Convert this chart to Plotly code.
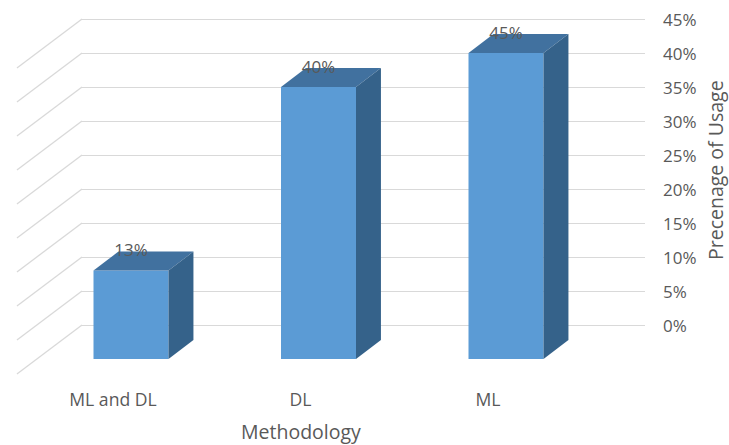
import plotly.graph_objects as go

# Survey values
methods = ["ML and DL", "DL", "ML"]
usage = [13, 40, 45]
tick_values = [0, 5, 10, 15, 20, 25, 30, 35, 40, 45]
tick_labels = ["0%", "5%", "10%", "15%", "20%", "25%", "30%", "35%", "40%", "45%"]

WIDTH, HEIGHT = 729, 445
FONT = "Open Sans"
TEXT = "#595959"
GRID = "#D9D9D9"
FRONT = "#5B9BD5"
TOP = "#41719F"
SIDE = "#35628A"

# Back wall rectangle in canvas pixels
WALL_LEFT, WALL_RIGHT, WALL_TOP, WALL_BOTTOM = 82, 645, 19, 325
# One category step and one percent in canvas pixels
STEP = 187.5
PER_PERCENT = (WALL_BOTTOM - WALL_TOP) / 45
FIRST_CENTER = 131
# Extra room so the 0% and 45% gridlines are not dropped at the range ends
EDGE = 2

# Pseudo-3D projection, expressed in data units of the full-canvas axes
positions = list(range(len(methods)))
half_width = 0.2
floor_drop = 5.0      # the bars stand this far below the back wall's zero line
depth_x, depth_y = 0.133, 2.8
wall_x, wall_y = 0.347, 7.2
label_lift = 2.7
wall_start = (WALL_LEFT - FIRST_CENTER) / STEP

fig = go.Figure()

# Carries the value axis and its grid on the back wall
fig.add_trace(go.Scatter(x=positions, y=usage, mode="none", xaxis="x", yaxis="y",
                         hoverinfo="skip"))

# Side wall and floor lines running forward from each gridline
wall_xs, wall_ys = [], []
for v in tick_values:
    wall_xs += [wall_start, wall_start - wall_x, None]
    wall_ys += [v, v - wall_y, None]
fig.add_trace(go.Scatter(x=wall_xs, y=wall_ys, mode="lines", xaxis="x2", yaxis="y2",
                         line=dict(color=GRID, width=1.3), hoverinfo="skip"))

# Front faces
fig.add_trace(go.Bar(x=positions, y=usage, base=[-floor_drop] * len(usage),
                     width=2 * half_width, marker=dict(color=FRONT, line_width=0),
                     xaxis="x2", yaxis="y2", hoverinfo="skip"))

# Top and side faces
for p, v in zip(positions, usage):
    left, right = p - half_width, p + half_width
    high, low = v - floor_drop, -floor_drop
    fig.add_trace(go.Scatter(
        x=[left, right, right + depth_x, left + depth_x, left],
        y=[high, high, high + depth_y, high + depth_y, high],
        mode="lines", fill="toself", fillcolor=TOP, line=dict(width=0),
        xaxis="x2", yaxis="y2", hoverinfo="skip"))
    fig.add_trace(go.Scatter(
        x=[right, right + depth_x, right + depth_x, right, right],
        y=[high, high + depth_y, low + depth_y, low, high],
        mode="lines", fill="toself", fillcolor=SIDE, line=dict(width=0),
        xaxis="x2", yaxis="y2", hoverinfo="skip"))

# Value labels
fig.add_trace(go.Scatter(
    x=positions, y=[v - floor_drop + label_lift for v in usage],
    mode="text", text=[f"{v}%" for v in usage], textposition="middle center",
    textfont=dict(family=FONT, size=17, color=TEXT),
    xaxis="x2", yaxis="y2", hoverinfo="skip"))

fig.update_layout(
    width=WIDTH, height=HEIGHT,
    margin=dict(l=0, r=0, t=0, b=0, autoexpand=False),
    paper_bgcolor="white", plot_bgcolor="rgba(0,0,0,0)",
    showlegend=False,
    font=dict(family=FONT, color=TEXT),
    # Back wall axes: value grid, tick labels and category labels
    xaxis=dict(
        domain=[WALL_LEFT / WIDTH, WALL_RIGHT / WIDTH],
        range=[wall_start, (WALL_RIGHT - FIRST_CENTER) / STEP],
        tickmode="array", tickvals=positions, ticktext=methods,
        tickfont=dict(size=17.6, color=TEXT), showgrid=False, zeroline=False,
        showline=False, ticks="", ticklabelstandoff=60, ticklabelshift=-18,
    ),
    yaxis=dict(
        domain=[1 - (WALL_BOTTOM + EDGE) / HEIGHT, 1 - (WALL_TOP - EDGE) / HEIGHT],
        range=[-EDGE / PER_PERCENT, 45 + EDGE / PER_PERCENT],
        side="right", tickmode="array", tickvals=tick_values,
        ticktext=tick_labels, tickfont=dict(size=17, color=TEXT),
        showgrid=True, gridcolor=GRID, gridwidth=1.3, zeroline=False,
        showline=False, ticks="", ticklabelstandoff=17, ticklabelshift=1,
    ),
    # Full-canvas axes for the projected bars and walls
    xaxis2=dict(
        domain=[0, 1], anchor="y2", visible=False,
        range=[-FIRST_CENTER / STEP, (WIDTH - FIRST_CENTER) / STEP],
    ),
    yaxis2=dict(
        domain=[0, 1], anchor="x2", visible=False,
        range=[(WALL_BOTTOM - HEIGHT) / PER_PERCENT, WALL_BOTTOM / PER_PERCENT],
    ),
    annotations=[
        dict(text="Methodology", xref="paper", yref="paper", x=300.5 / WIDTH, y=1 - 431 / HEIGHT,
             xanchor="center", yanchor="middle", showarrow=False,
             font=dict(size=19.5, color=TEXT)),
        dict(text="Precenage of Usage", xref="paper", yref="paper", x=715 / WIDTH, y=1 - 170 / HEIGHT,
             xanchor="center", yanchor="middle", textangle=-90, showarrow=False,
             font=dict(size=19.5, color=TEXT)),
    ],
)

fig.write_html("out.html")
